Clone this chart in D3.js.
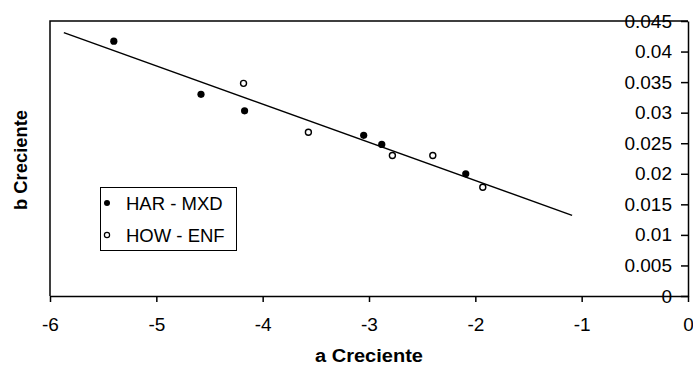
<!DOCTYPE html>
<html lang="es">
<head>
<meta charset="UTF-8">
<title>b vs a Creciente</title>
<script src="https://d3js.org/d3.v7.min.js"></script>
<style>
  body { margin: 0; background: #fff; }
  svg { font-family: "Liberation Sans", Arial, sans-serif; }
  .axis path, .axis line { stroke: #000; stroke-width: 1.5px; }
  .axis text { fill: #000; font-size: 19px; }
  .title { font-weight: bold; font-size: 18px; fill: #000; }
  .legend text { font-size: 18.5px; fill: #000; }
</style>
</head>
<body>
<script>
// data
const harA = [-5.40, -4.58, -4.17, -3.05, -2.88, -2.09]
const harB = [0.0417, 0.0330, 0.0303, 0.0263, 0.0248, 0.0200]
const howA = [-4.18, -3.57, -2.78, -2.40, -1.93]
const howB = [0.0348, 0.0268, 0.0230, 0.0230, 0.0178]
// fitted line, ends
const fitA = [-5.87, -1.09]
const fitB = [0.0431, 0.0132]

const xTicks = [-6, -5, -4, -3, -2, -1, 0]
const yTicks = [0, 0.005, 0.01, 0.015, 0.02, 0.025, 0.03, 0.035, 0.04, 0.045]
const yLabels = ["0", "0.005", "0.01", "0.015", "0.02", "0.025", "0.03", "0.035", "0.04", "0.045"]

const W = 693, H = 367
const PLOT = {LEFT: 50, RIGHT: 688, TOP: 21, BOTTOM: 296}

const svg = d3.select("body").append("svg")
    .attr("width", W)
    .attr("height", H)

const x = d3.scaleLinear().domain([-6, 0]).range([PLOT.LEFT, PLOT.RIGHT])
const y = d3.scaleLinear().domain([0, 0.045]).range([PLOT.BOTTOM, PLOT.TOP])

// frame top + left
svg.append("path")
    .attr("d", `M${PLOT.RIGHT},${PLOT.TOP}H${PLOT.LEFT}V${PLOT.BOTTOM}`)
    .attr("fill", "none")
    .attr("stroke", "#000")
    .attr("stroke-width", 1.5)

// x axis
svg.append("g")
    .attr("class", "axis")
    .attr("transform", `translate(0, ${PLOT.BOTTOM})`)
    .call(d3.axisBottom(x).tickValues(xTicks).tickSize(6).tickSizeOuter(0).tickPadding(16)
        .tickFormat(d => String(d)))

// y axis on the right edge (x = 0), labels inside
svg.append("g")
    .attr("class", "axis")
    .attr("transform", `translate(${PLOT.RIGHT}, 0)`)
    .call(d3.axisLeft(y).tickValues(yTicks).tickSize(7).tickSizeOuter(0).tickPadding(9)
        .tickFormat((d, i) => yLabels[i]))

// trend line
const line = d3.line().x(d => x(d[0])).y(d => y(d[1]))
svg.append("path")
    .datum(d3.zip(fitA, fitB))
    .attr("d", line)
    .attr("fill", "none")
    .attr("stroke", "#000")
    .attr("stroke-width", 1.5)

// points
svg.append("g").selectAll("circle")
    .data(d3.zip(harA, harB))
    .join("circle")
    .attr("cx", d => x(d[0]))
    .attr("cy", d => y(d[1]))
    .attr("r", 3.6)
    .attr("fill", "#000")

svg.append("g").selectAll("circle")
    .data(d3.zip(howA, howB))
    .join("circle")
    .attr("cx", d => x(d[0]))
    .attr("cy", d => y(d[1]))
    .attr("r", 3)
    .attr("fill", "#fff")
    .attr("stroke", "#000")
    .attr("stroke-width", 1.4)

// axis titles
svg.append("text")
    .attr("class", "title")
    .attr("x", 369)
    .attr("y", 362)
    .attr("text-anchor", "middle")
    .attr("textLength", 108)
    .attr("lengthAdjust", "spacingAndGlyphs")
    .text("a Creciente")

svg.append("text")
    .attr("class", "title")
    .attr("transform", "translate(27, 160) rotate(-90)")
    .attr("text-anchor", "middle")
    .attr("textLength", 100)
    .attr("lengthAdjust", "spacingAndGlyphs")
    .text("b Creciente")

// legend
const legend = svg.append("g").attr("class", "legend")
legend.append("rect")
    .attr("x", 100.5).attr("y", 187.5)
    .attr("width", 136).attr("height", 63)
    .attr("fill", "#fff").attr("stroke", "#000").attr("stroke-width", 1)

const items = [
    {name: "HAR - MXD", filled: true},
    {name: "HOW - ENF", filled: false}
]
items.forEach((it, i) => {
    const row = legend.append("g").attr("transform", `translate(0, ${i * 32})`)
    row.append("circle")
        .attr("cx", 107).attr("cy", 203)
        .attr("r", it.filled ? 3 : 2.6)
        .attr("fill", it.filled ? "#000" : "#fff")
        .attr("stroke", "#000")
        .attr("stroke-width", it.filled ? 0 : 1.2)
    row.append("text")
        .attr("x", 126).attr("y", 209.5)
        .text(it.name)
})
</script>
</body>
</html>
